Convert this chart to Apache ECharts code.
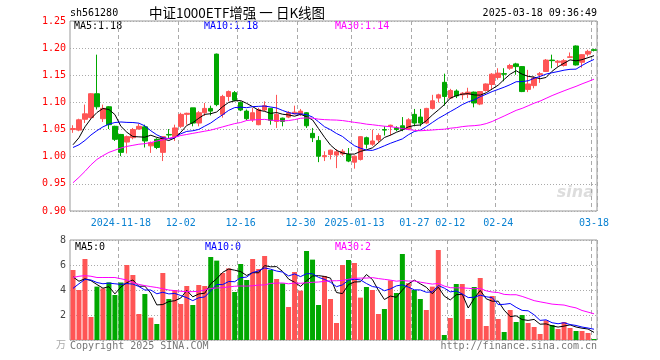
<!DOCTYPE html>
<html><head><meta charset="utf-8">
<script src="https://cdn.jsdelivr.net/npm/echarts@6/dist/echarts.min.js"></script>
<style>html,body{margin:0;padding:0;background:#fff}#c{width:660px;height:360px}</style>
</head><body><div id="c"></div>
<script>
const dates = [
'2024-11-06','2024-11-07','2024-11-08','2024-11-11','2024-11-12','2024-11-13','2024-11-14','2024-11-15','2024-11-18','2024-11-19',
'2024-11-20','2024-11-21','2024-11-22','2024-11-25','2024-11-26','2024-11-27','2024-11-28','2024-11-29','2024-12-02','2024-12-03',
'2024-12-04','2024-12-05','2024-12-06','2024-12-09','2024-12-10','2024-12-11','2024-12-12','2024-12-13','2024-12-16','2024-12-17',
'2024-12-18','2024-12-19','2024-12-20','2024-12-23','2024-12-24','2024-12-25','2024-12-26','2024-12-27','2024-12-30','2024-12-31',
'2025-01-02','2025-01-03','2025-01-06','2025-01-07','2025-01-08','2025-01-09','2025-01-10','2025-01-13','2025-01-14','2025-01-15',
'2025-01-16','2025-01-17','2025-01-20','2025-01-21','2025-01-22','2025-01-23','2025-01-24','2025-01-27','2025-02-05','2025-02-06',
'2025-02-07','2025-02-10','2025-02-11','2025-02-12','2025-02-13','2025-02-14','2025-02-17','2025-02-18','2025-02-19','2025-02-20',
'2025-02-21','2025-02-24','2025-02-25','2025-02-26','2025-02-27','2025-02-28','2025-03-03','2025-03-04','2025-03-05','2025-03-06',
'2025-03-07','2025-03-10','2025-03-11','2025-03-12','2025-03-13','2025-03-14','2025-03-17','2025-03-18'];
const open = [1.050,1.049,1.069,1.072,1.116,1.070,1.092,1.056,1.041,1.027,
1.035,1.051,1.055,1.020,1.032,1.008,1.041,1.037,1.056,1.078,
1.090,1.062,1.081,1.089,1.189,1.078,1.111,1.118,1.100,1.084,
1.068,1.059,1.086,1.089,1.065,1.071,1.073,1.079,1.078,1.081,
1.043,1.030,1.000,1.004,1.003,1.005,1.004,0.990,0.995,1.035,
1.023,1.031,1.050,1.056,1.053,1.057,1.051,1.078,1.073,1.062,
1.089,1.108,1.137,1.108,1.121,1.114,1.115,1.119,1.097,1.122,
1.133,1.146,1.153,1.163,1.171,1.166,1.124,1.131,1.151,1.157,
1.178,1.174,1.168,1.183,1.204,1.174,1.189,1.197];
const close = [1.052,1.068,1.079,1.116,1.092,1.089,1.059,1.032,1.008,1.037,
1.050,1.056,1.029,1.026,1.017,1.037,1.040,1.053,1.078,1.080,
1.062,1.081,1.089,1.084,1.096,1.111,1.120,1.104,1.086,1.070,
1.081,1.087,1.094,1.067,1.078,1.065,1.081,1.082,1.084,1.057,
1.035,1.001,1.002,1.012,1.009,1.010,0.992,1.001,1.037,1.023,
1.029,1.039,1.049,1.058,1.050,1.050,1.068,1.062,1.062,1.089,
1.103,1.114,1.111,1.122,1.112,1.117,1.119,1.099,1.120,1.134,
1.152,1.154,1.152,1.168,1.166,1.120,1.134,1.145,1.153,1.178,
1.177,1.176,1.177,1.184,1.169,1.188,1.194,1.196];
const low = [1.044,1.047,1.062,1.070,1.087,1.064,1.051,1.029,1.001,1.006,
1.032,1.050,1.017,1.007,1.014,0.992,1.033,1.029,1.053,1.059,
1.056,1.056,1.075,1.076,1.093,1.072,1.102,1.102,1.084,1.067,
1.064,1.058,1.084,1.059,1.053,1.056,1.071,1.078,1.075,1.053,
1.027,0.990,0.992,0.995,0.979,1.002,0.990,0.978,0.993,1.015,
1.020,1.026,1.039,1.039,1.047,1.047,1.049,1.056,1.056,1.060,
1.087,1.100,1.094,1.107,1.108,1.105,1.108,1.091,1.095,1.120,
1.124,1.142,1.139,1.160,1.151,1.119,1.119,1.126,1.136,1.156,
1.163,1.166,1.166,1.183,1.168,1.164,1.185,1.194];
const high = [1.058,1.070,1.096,1.117,1.188,1.096,1.093,1.057,1.042,1.039,
1.053,1.061,1.059,1.028,1.034,1.038,1.051,1.059,1.081,1.081,
1.090,1.084,1.099,1.094,1.190,1.114,1.122,1.121,1.102,1.087,
1.090,1.090,1.102,1.090,1.114,1.072,1.084,1.094,1.088,1.082,
1.053,1.038,1.010,1.013,1.014,1.014,1.016,1.002,1.038,1.037,
1.050,1.043,1.056,1.059,1.056,1.073,1.071,1.088,1.088,1.090,
1.114,1.116,1.153,1.125,1.124,1.119,1.127,1.120,1.121,1.135,
1.154,1.163,1.163,1.171,1.173,1.167,1.160,1.148,1.156,1.180,
1.188,1.178,1.180,1.192,1.205,1.189,1.197,1.199];
const volume = [5.6,4.0,6.48,1.84,4.27,4.13,4.61,3.6,4.6,6.0,
5.2,2.08,3.68,1.79,1.28,5.36,3.28,4.0,2.88,4.32,
2.8,4.4,4.32,6.64,6.35,5.36,5.73,3.84,6.08,4.8,
6.48,5.68,6.72,5.6,4.88,4.53,2.64,5.44,3.95,7.12,
6.43,2.8,5.12,3.28,1.36,6.0,6.4,6.16,3.39,4.24,
4.0,2.08,2.48,4.77,3.76,6.88,4.55,4.0,3.28,2.4,
4.27,7.2,0.4,1.76,4.48,4.48,1.68,4.24,4.96,1.12,
3.52,1.68,0.64,2.4,1.44,2.0,1.36,1.04,0.48,1.57,
1.2,0.88,1.44,0.96,0.72,0.72,0.56,0.08];
// moving-average values before a full window is available
const ma5Head = [1.022,1.035,1.055,1.070];
const ma10Head = [1.017,1.022,1.030,1.040,1.048,1.055,1.060,1.063,1.064];
const ma30Head = [0.952,0.962,0.973,0.985,0.995,1.002,1.008,1.012,1.016,1.019,
1.021,1.023,1.024,1.026,1.029,1.031,1.034,1.036,1.039,1.041,
1.043,1.045,1.047,1.049,1.052,1.055,1.058,1.061,1.063];
const volMa5Head = [5.05,4.7,4.9,4.75];
const volMa10Head = [4.13,4.5,4.85,4.8,4.6,4.5,4.55,4.5,4.45];
const volMa30Head = [5.0,5.1,5.15,5.1,5.0,5.0,5.0,5.0,4.9,4.8,
4.6,4.45,4.35,4.27,4.2,4.1,4.0,3.95,3.9,3.87,
3.87,3.9,4.0,4.13,4.16,4.19,4.25,4.3,4.32];
const tickDates = ['2024-11-18','2024-12-02','2024-12-16','2024-12-30','2025-01-13','2025-01-27','2025-02-12','2025-02-24','2025-03-18'];
const tickTexts = ['2024-11-18','12-02','12-16','12-30','2025-01-13','01-27','02-12','02-24','03-18'];

function movingAvg(vals, n, head) {
  return vals.map((v, i) => {
    if (i < n - 1) return head[i];
    let s = 0; for (let k = i - n + 1; k <= i; k++) s += vals[k];
    return +(s / n).toFixed(4);
  });
}
const UP = '#ff5555', DOWN = '#00a800';
const MONO = 'DejaVu Sans Mono';
const kData = dates.map((d, i) => [open[i], close[i], low[i], high[i]]);
const volData = volume.map((v, i) => ({value: v, itemStyle: {color: close[i] >= open[i] ? UP : DOWN}}));
const tickIdx = tickDates.map(d => dates.indexOf(d));
const showTick = (i) => tickIdx.indexOf(i) >= 0;

const chart = echarts.init(document.getElementById('c'), null, {renderer: 'canvas'});
const dashed = {show: true, interval: showTick, lineStyle: {color: '#aaa', width: 1, type: [4, 3]}};
const dotted = {show: true, lineStyle: {color: '#aaa', width: 1, type: [1, 2]}};
function lineS(name, data, color, xi) {
  return {type: 'line', name, data, xAxisIndex: xi, yAxisIndex: xi, showSymbol: false, symbol: 'none',
    lineStyle: {color, width: 1}, itemStyle: {color}, z: 5, silent: true};
}
function txt(x, y, text, fill, font, align) {
  return {type: 'text', x, y, silent: true, style: {text, fill, font, textAlign: align || 'left', textVerticalAlign: 'middle'}};
}
chart.setOption({
  animation: false,
  backgroundColor: '#fff',
  grid: [
    {left: 70, top: 21, width: 527, height: 190, show: true, borderColor: '#999', borderWidth: 1, backgroundColor: 'transparent'},
    {left: 70, top: 240, width: 527, height: 100, show: true, borderColor: '#999', borderWidth: 1, backgroundColor: 'transparent'}
  ],
  xAxis: [
    {type: 'category', data: dates, gridIndex: 0, boundaryGap: true,
     axisLine: {show: false}, axisTick: {show: false}, splitLine: dashed,
     axisLabel: {interval: showTick, margin: 7, color: '#0a82d2', fontFamily: MONO, fontSize: 10,
       formatter: (v) => tickTexts[tickDates.indexOf(v)]}},
    {type: 'category', data: dates, gridIndex: 1, boundaryGap: true,
     axisLine: {show: false}, axisTick: {show: false}, splitLine: dashed, axisLabel: {show: false}}
  ],
  yAxis: [
    {type: 'value', gridIndex: 0, min: 0.90, max: 1.25, interval: 0.05, axisLine: {show: false}, axisTick: {show: false},
     splitLine: dotted, axisLabel: {color: '#ff0000', fontFamily: MONO, fontSize: 10, margin: 4, formatter: (v) => v.toFixed(2)}},
    {type: 'value', gridIndex: 1, min: 0, max: 8, interval: 2, axisLine: {show: false}, axisTick: {show: false},
     splitLine: dotted, axisLabel: {color: '#444', fontFamily: MONO, fontSize: 10, margin: 4, formatter: (v) => v === 0 ? '' : String(v)}}
  ],
  series: [
    {type: 'candlestick', data: kData, xAxisIndex: 0, yAxisIndex: 0, barWidth: 5, silent: true,
     itemStyle: {color: UP, color0: DOWN, borderColor: UP, borderColor0: DOWN, borderWidth: 1}},
    lineS('MA5', movingAvg(close, 5, ma5Head), '#000000', 0),
    lineS('MA10', movingAvg(close, 10, ma10Head), '#0000ff', 0),
    lineS('MA30', movingAvg(close, 30, ma30Head), '#ff00ff', 0),
    {type: 'bar', data: volData, xAxisIndex: 1, yAxisIndex: 1, barWidth: 5, silent: true},
    lineS('VMA5', movingAvg(volume, 5, volMa5Head), '#000000', 1),
    lineS('VMA10', movingAvg(volume, 10, volMa10Head), '#0000ff', 1),
    lineS('VMA30', movingAvg(volume, 30, volMa30Head), '#ff00ff', 1)
  ],
  graphic: [
    txt(70, 13, 'sh561280', '#000', '10px ' + MONO),
    txt(237, 13, '中证1000ETF增强 一 日K线图', '#000', '13.5px "Noto Sans CJK SC"', 'center'),
    txt(597, 13, '2025-03-18 09:36:49', '#000', '10px ' + MONO, 'right'),
    txt(74, 26, 'MA5:1.18', '#000', '10px ' + MONO),
    txt(204, 26, 'MA10:1.18', '#0000ff', '10px ' + MONO),
    txt(335, 26, 'MA30:1.14', '#ff00ff', '10px ' + MONO),
    txt(75, 247, 'MA5:0', '#000', '10px ' + MONO),
    txt(205, 247, 'MA10:0', '#0000ff', '10px ' + MONO),
    txt(335, 247, 'MA30:2', '#ff00ff', '10px ' + MONO),
    txt(70, 346, 'Copyright 2025 SINA.COM', '#777', '10px ' + MONO),
    txt(597, 346, 'http://finance.sina.com.cn', '#777', '10px ' + MONO, 'right'),
    txt(56, 344, '万', '#aaa', '10px "Noto Sans CJK SC"'),
    txt(594, 193, 'sina', '#dddddd', 'italic bold 16px "DejaVu Sans"', 'right')
  ]
});
</script>
</body></html>
